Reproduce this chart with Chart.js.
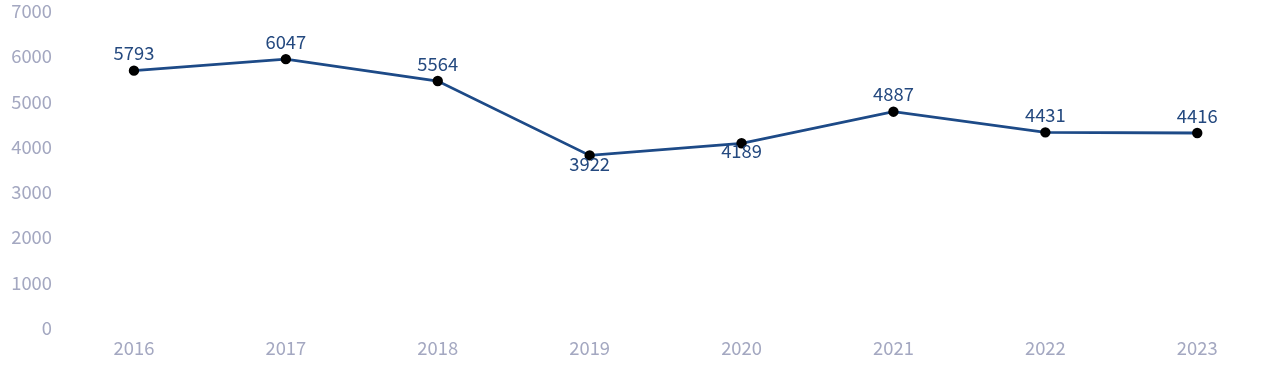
<!DOCTYPE html>
<html>
<head>
<meta charset="utf-8">
<script src="https://cdn.jsdelivr.net/npm/chart.js@4"></script>
<style>
  html, body { margin: 0; padding: 0; background: #fff; }
  #wrap { width: 1280px; height: 382px; }
</style>
</head>
<body>
<div id="wrap"><canvas id="lineChart" width="1280" height="382"></canvas></div>
<script>
const years = ['2016', '2017', '2018', '2019', '2020', '2021', '2022', '2023'];
const values = [5793, 6047, 5564, 3922, 4189, 4887, 4431, 4416];
// labels below the point for these
const labelsBelow = ['2019', '2020'];

const FONT = '"Noto Sans CJK SC", "Source Sans Pro", sans-serif';

const pointLabels = {
    id: 'pointLabels',
    afterDatasetsDraw(chart) {
        const ctx = chart.ctx;
        const meta = chart.getDatasetMeta(0);
        ctx.save();
        ctx.font = '18.4px ' + FONT;
        ctx.fillStyle = '#24497f';
        ctx.textAlign = 'center';
        meta.data.forEach(function (pt, i) {
            if (labelsBelow.includes(years[i])) {
                ctx.textBaseline = 'top';
                ctx.fillText(values[i], pt.x, pt.y - 1);
            } else {
                ctx.textBaseline = 'bottom';
                ctx.fillText(values[i], pt.x, pt.y - 8);
            }
        });
        ctx.restore();
    }
};

new Chart(document.getElementById('lineChart').getContext('2d'), {
    type: 'line',
    data: {
        labels: years,
        datasets: [{
            data: values,
            borderColor: '#1d4a87',
            borderWidth: 2.8,
            pointBackgroundColor: '#000',
            pointBorderColor: '#000',
            pointRadius: 3.8,
            tension: 0,
            fill: false
        }]
    },
    options: {
        responsive: false,
        animation: false,
        layout: { padding: { top: 15, right: 6, left: 0, bottom: 0 } },
        plugins: { legend: { display: false }, tooltip: { enabled: false } },
        scales: {
            x: {
                offset: true,
                grid: { display: false, drawTicks: false },
                border: { display: false },
                ticks: {
                    color: '#a4a8c1',
                    font: { family: FONT, size: 18.4 },
                    padding: 4
                },
                afterFit: function (scale) { scale.height = 49; }
            },
            y: {
                min: 0,
                max: 7000,
                grid: { display: false, drawTicks: false },
                border: { display: false },
                ticks: {
                    stepSize: 1000,
                    color: '#a4a8c1',
                    font: { family: FONT, size: 18.4, lineHeight: '10px' },
                    padding: 6,
                    callback: function (v) { return [String(v), '']; }
                },
                afterFit: function (scale) { scale.width = 58; }
            }
        }
    },
    plugins: [pointLabels]
});
</script>
</body>
</html>
